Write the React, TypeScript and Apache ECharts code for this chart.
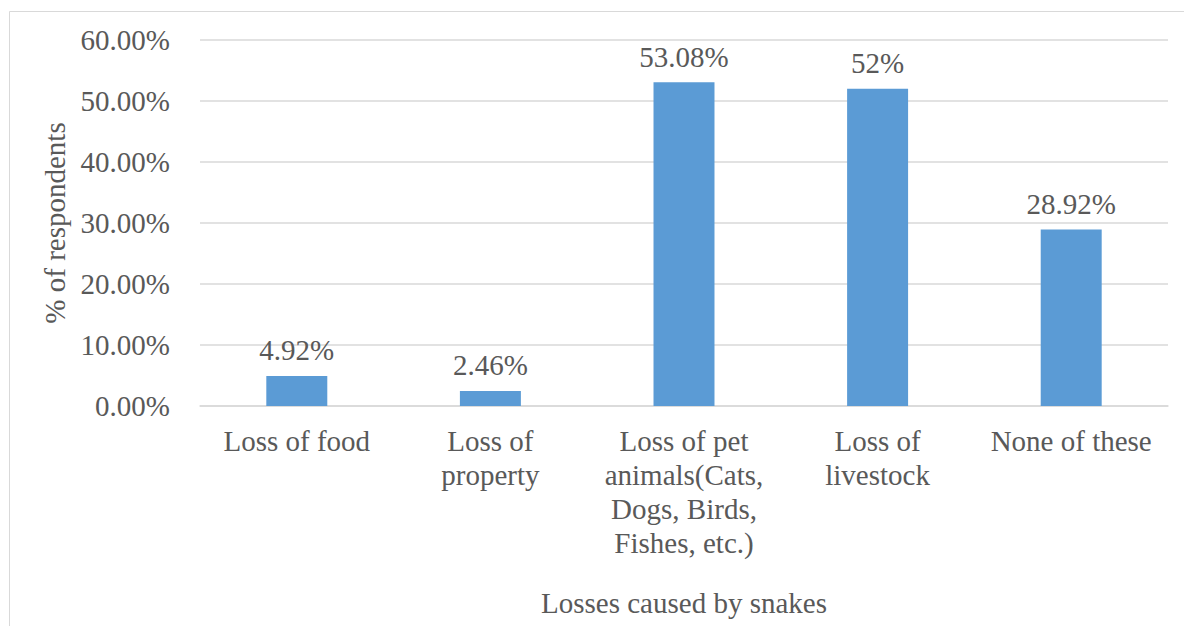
import React, { useEffect, useRef } from "react";
import * as echarts from "echarts";

const categories = [
  "Loss of food",
  "Loss of\nproperty",
  "Loss of pet\nanimals(Cats,\nDogs, Birds,\nFishes, etc.)",
  "Loss of\nlivestock",
  "None of these",
];
const values = [4.92, 2.46, 53.08, 52, 28.92];
const valueLabels = ["4.92%", "2.46%", "53.08%", "52%", "28.92%"];
const yAxisTitle = "% of respondents";
const xAxisTitle = "Losses caused by snakes";

const FONT = "Liberation Serif";
const TEXT = "#595959";

export default function App() {
  const ref = useRef<HTMLDivElement>(null);
  useEffect(() => {
    if (!ref.current) return;
    const chart = echarts.init(ref.current, null, { renderer: "svg" });
    chart.setOption({
      animation: false,
      backgroundColor: "#ffffff",
      textStyle: { fontFamily: FONT, color: TEXT },
      graphic: [
        {
          type: "rect",
          shape: { x: 9.5, y: 11.5, width: 1200, height: 700 },
          style: { fill: "none", stroke: "#d9d9d9", lineWidth: 1 },
          silent: true,
        },
      ],
      grid: { left: 200, right: 16, top: 40, bottom: 220, containLabel: false },
      xAxis: {
        type: "category",
        data: categories,
        name: xAxisTitle,
        nameLocation: "middle",
        nameGap: 182,
        nameTextStyle: { fontFamily: FONT, fontSize: 29, color: TEXT },
        axisLine: { show: true, lineStyle: { color: "#d9d9d9", width: 1.5 } },
        axisTick: { show: false },
        axisLabel: {
          interval: 0,
          fontFamily: FONT,
          fontSize: 29,
          color: TEXT,
          lineHeight: 34,
          margin: 18,
        },
      },
      yAxis: {
        type: "value",
        min: 0,
        max: 60,
        interval: 10,
        name: yAxisTitle,
        nameLocation: "middle",
        nameGap: 122,
        nameTextStyle: { fontFamily: FONT, fontSize: 29, color: TEXT },
        axisLine: { show: false },
        axisTick: { show: false },
        splitLine: { lineStyle: { color: "#d9d9d9", width: 1.5 } },
        axisLabel: {
          fontFamily: FONT,
          fontSize: 29,
          color: TEXT,
          margin: 30,
          formatter: (v: number) => v.toFixed(2) + "%",
        },
      },
      series: [
        {
          type: "bar",
          data: values,
          barWidth: "31.5%",
          itemStyle: { color: "#5b9bd5" },
          label: {
            show: true,
            position: "top",
            distance: 11,
            fontFamily: FONT,
            fontSize: 29,
            color: TEXT,
            formatter: (p: any) => valueLabels[p.dataIndex],
          },
        },
      ],
    });
    return () => chart.dispose();
  }, []);
  return (
    <div
      ref={ref}
      style={{ position: "absolute", left: 0, top: 0, width: 1184, height: 626 }}
    />
  );
}
